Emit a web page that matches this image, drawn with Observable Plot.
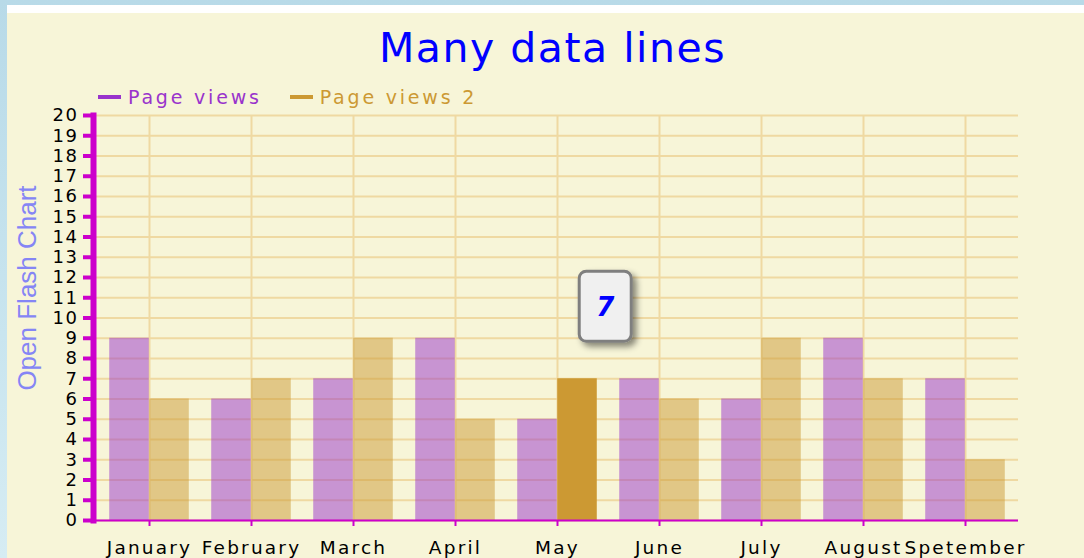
<!DOCTYPE html>
<html>
<head>
<meta charset="utf-8">
<script src="https://cdn.jsdelivr.net/npm/d3@7"></script>
<script src="https://cdn.jsdelivr.net/npm/@observablehq/plot@0.6"></script>
<style>
  html, body { margin: 0; padding: 0; }
  body {
    width: 1084px; height: 558px; overflow: hidden; position: relative;
    background: linear-gradient(180deg, #b8dae8 0%, #c9e5ef 60%, #d6ecf3 100%);
    font-family: "DejaVu Sans", Verdana, sans-serif;
  }
  #panel {
    position: absolute; left: 7px; top: 5px; right: 0; bottom: 0;
    background: #f7f5d8; border-top: 8px solid #ffffff;
  }
  #title {
    margin: 0; padding-top: 10px; height: 50px; line-height: 50px;
    font-size: 41px; color: #0000ff; text-align: center; padding-left: 14px;
    letter-spacing: 1.5px; font-weight: normal; white-space: nowrap;
  }
  #legend {
    margin-top: 13px; height: 22px; line-height: 22px; padding-left: 91px;
    font-size: 19px; letter-spacing: 2.8px; white-space: nowrap;
    display: flex; align-items: center;
  }
  .item { display: inline-flex; align-items: center; margin-right: 28px; }
  .swatch { display: inline-block; width: 23px; height: 4px; margin-right: 7px; }
  #chart svg { display: block; overflow: visible; }
</style>
</head>
<body>
<div id="panel">
  <div id="title">Many data lines</div>
  <div id="legend"></div>
  <div id="chart"></div>
</div>
<script>
// ---- data ----
const months = ["January", "February", "March", "April", "May", "June", "July", "August", "Spetember"];
const pageViews = [9, 6, 7, 9, 5, 7, 6, 9, 7];
const pageViews2 = [6, 7, 9, 5, 7, 6, 9, 7, 3];
const seriesNames = ["Page views", "Page views 2"];
const seriesColors = ["#9933cc", "#cc9933"];
const yTickValues = [0, 1, 2, 3, 4, 5, 6, 7, 8, 9, 10, 11, 12, 13, 14, 15, 16, 17, 18, 19, 20];
const tooltip = {month: "May", series: "Page views 2", value: 7};
const yLabel = "Open Flash Chart";

// ---- legend ----
const legend = document.getElementById("legend");
seriesNames.forEach((name, i) => {
  const item = document.createElement("span");
  item.className = "item";
  const sw = document.createElement("span");
  sw.className = "swatch";
  sw.style.background = seriesColors[i];
  const tx = document.createElement("span");
  tx.textContent = name;
  tx.style.color = seriesColors[i];
  item.appendChild(sw); item.appendChild(tx);
  legend.appendChild(item);
});

// ---- chart ----
const rows1 = months.map((m, i) => ({month: m, value: pageViews[i], series: seriesNames[0]}));
const rows2 = months.map((m, i) => ({month: m, value: pageViews2[i], series: seriesNames[1]}));

const W = 1077, H = 450, ML = 89, MR = 66, MT = 7, MB = 38;
const bw = (W - ML - MR) / months.length;
const barW = 40;
const isHi = d => d.month === tooltip.month && d.series === tooltip.series;

const plot = Plot.plot({
  width: W, height: H,
  marginLeft: ML, marginRight: MR, marginTop: MT, marginBottom: MB,
  style: {background: "transparent", fontFamily: "DejaVu Sans", overflow: "visible"},
  x: {domain: months, padding: 0, axis: null},
  y: {domain: [0, 20], axis: null},
  marks: [
    Plot.gridY(yTickValues, {stroke: "#efd9a2", strokeOpacity: 1, strokeWidth: 2}),
    Plot.gridX(months, {stroke: "#efd9a2", strokeOpacity: 1, strokeWidth: 2}),
    Plot.barY(rows1, {x: "month", y: "value", fill: seriesColors[0], fillOpacity: 0.5,
      insetLeft: bw / 2 - barW, insetRight: bw / 2}),
    Plot.barY(rows2, {x: "month", y: "value", fill: seriesColors[1],
      fillOpacity: d => isHi(d) ? 1 : 0.5,
      insetLeft: bw / 2, insetRight: bw / 2 - barW}),
    Plot.axisY(yTickValues, {anchor: "left", tickSize: 13, tickPadding: 5, stroke: "#cc00cc",
      strokeWidth: 4, fill: "#000000", fontSize: 18, label: null}),
    Plot.frame({anchor: "left", stroke: "#cc00cc", strokeWidth: 6, dx: -3}),
    Plot.ruleY([0], {stroke: "#cc00cc", strokeWidth: 2}),
    Plot.axisX(months, {anchor: "bottom", tickSize: 6, tickPadding: 14, stroke: "#cc00cc",
      strokeWidth: 2, fill: "#000000", fontSize: 18.5, label: null}),
    Plot.text([yLabel], {frameAnchor: "left", textAnchor: "middle", rotate: -90, dx: -69, dy: -30,
      fill: "#8585f5", fontSize: 26, fontFamily: "Liberation Sans"})
  ]
});
document.getElementById("chart").appendChild(plot);

// letter spacing tweaks for the Flash-style text
plot.querySelectorAll('[aria-label="x-axis tick label"] text').forEach(t => t.setAttribute("letter-spacing", "2.2"));
plot.querySelectorAll('[aria-label="y-axis tick label"] text').forEach(t => t.setAttribute("letter-spacing", "1.5"));

// ---- tooltip, positioned with the plot's own scales ----
const xs = plot.scale("x"), ys = plot.scale("y");
const svg = d3.select(plot);
const defs = svg.append("defs");
const f = defs.append("filter").attr("id", "tipShadow").attr("x", "-30%").attr("y", "-30%").attr("width", "170%").attr("height", "170%");
f.append("feDropShadow").attr("dx", 4).attr("dy", 4).attr("stdDeviation", 3).attr("flood-color", "#000").attr("flood-opacity", 0.45);
const barCenter = xs.apply(tooltip.month) + bw / 2 + barW / 2;
const tipW = 52, tipH = 70;
const tipCx = barCenter + 28;
const tipBottom = ys.apply(tooltip.value) - 37;
const g = svg.append("g");
g.append("rect").attr("x", tipCx - tipW / 2).attr("y", tipBottom - tipH)
  .attr("width", tipW).attr("height", tipH).attr("rx", 7)
  .attr("fill", "#f0f0f0").attr("stroke", "#7f7f7f").attr("stroke-width", 3)
  .attr("filter", "url(#tipShadow)");
g.append("text").attr("x", tipCx).attr("y", tipBottom - tipH / 2)
  .attr("text-anchor", "middle").attr("dy", "0.36em")
  .attr("fill", "#0000ff").attr("font-size", 26).attr("font-weight", "bold").attr("font-style", "italic")
  .attr("font-family", "DejaVu Sans")
  .text(String(tooltip.value));
</script>
</body>
</html>
